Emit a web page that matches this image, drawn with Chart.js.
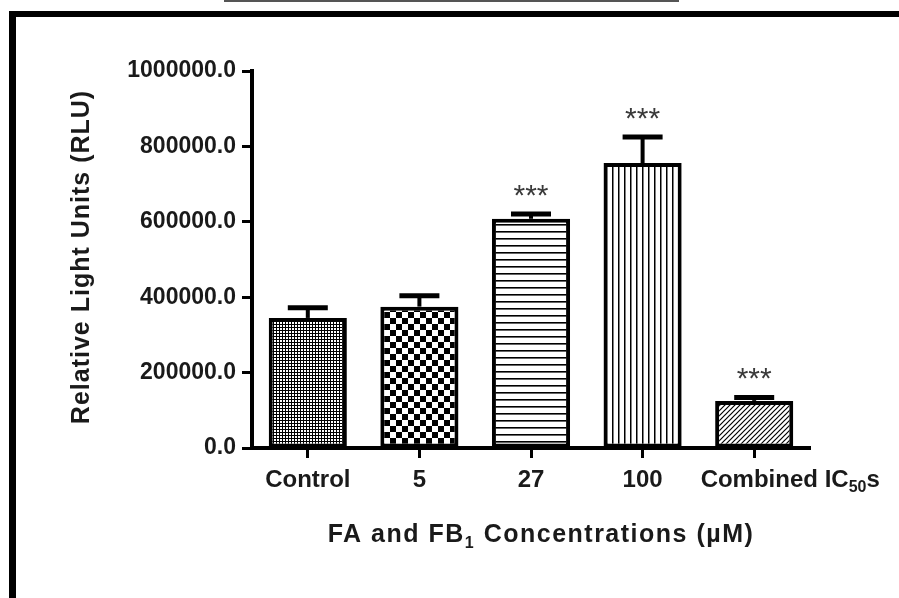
<!DOCTYPE html>
<html>
<head>
<meta charset="utf-8">
<script src="https://cdn.jsdelivr.net/npm/chart.js@4.4.0/dist/chart.umd.min.js"></script>
<style>
  body { margin: 0; background: #fff; }
  #wrap { position: relative; width: 899px; height: 598px; overflow: hidden; }
  #Luc { position: absolute; left: 0; top: 0; }
  .frame-top { position: absolute; left: 9px; top: 11px; width: 890px; height: 6px; background: #000; }
  .frame-left { position: absolute; left: 9px; top: 11px; width: 7px; height: 587px; background: #000; }
  .tab { position: absolute; left: 224px; top: -10px; width: 451px; height: 8px; border: 2px solid #555; }
</style>
</head>
<body>
<div id="wrap">
  <canvas id="Luc" width="899" height="598"></canvas>
  <div class="tab"></div>
  <div class="frame-top"></div>
  <div class="frame-left"></div>
</div>
<script>
const categories = ["Control", "5", "27", "100", "Combined IC₅₀s"];
const rluMean = [345000, 375000, 608000, 756000, 125000];
const rluSem = [27000, 29000, 13000, 69000, 9000];
const significance = ["", "", "***", "***", "***"];
const yTicks = [0, 200000, 400000, 600000, 800000, 1000000];
const xTitle = "FA and FB₁ Concentrations (µM)";
const yTitle = "Relative Light Units (RLU)";

const FONT = '"Liberation Sans", Arial, sans-serif';
const INK = "#1a1a1a";
const SUB = "₀₁₂₃₄₅₆₇₈₉";

// hatch fills like the prism bars
function makePattern(w, h, draw) {
  const c = document.createElement("canvas");
  c.width = w;
  c.height = h;
  const g = c.getContext("2d");
  g.fillStyle = "#fff";
  g.fillRect(0, 0, w, h);
  g.fillStyle = "#000";
  g.strokeStyle = "#000";
  draw(g, w, h);
  return g.createPattern(c, "repeat");
}

const fills = [
  makePattern(3, 3, (g) => {
    g.fillRect(0, 0, 3, 3);
    g.fillStyle = "#fff";
    g.fillRect(1, 1, 2, 2);
  }),
  makePattern(12, 12, (g) => {
    g.fillRect(0, 0, 6, 6);
    g.fillRect(6, 6, 6, 6);
  }),
  makePattern(8, 7, (g) => {
    g.fillRect(0, 0, 8, 1.6);
  }),
  makePattern(6, 8, (g) => {
    g.fillRect(0, 0, 1.5, 8);
  }),
  makePattern(5, 5, (g) => {
    g.lineWidth = 1.2;
    g.beginPath();
    g.moveTo(0, 5); g.lineTo(5, 0);
    g.moveTo(-1, 1); g.lineTo(1, -1);
    g.moveTo(4, 6); g.lineTo(6, 4);
    g.stroke();
  }),
];

// text with real subscript digits drawn smaller and lower
function drawRich(ctx, text, x, y, size, spacing) {
  const runs = [];
  for (const ch of text) {
    const k = SUB.indexOf(ch);
    const sub = k >= 0;
    const c = sub ? String(k) : ch;
    const last = runs[runs.length - 1];
    if (last && last.sub === sub) last.t += c;
    else runs.push({ t: c, sub });
  }
  let total = 0;
  runs.forEach((r) => {
    ctx.font = "bold " + (r.sub ? Math.round(size * 0.65) : size) + "px " + FONT;
    ctx.letterSpacing = spacing + "px";
    r.w = ctx.measureText(r.t).width;
    total += r.w;
  });
  let cx = x - total / 2;
  ctx.textAlign = "left";
  runs.forEach((r) => {
    ctx.font = "bold " + (r.sub ? Math.round(size * 0.65) : size) + "px " + FONT;
    ctx.fillText(r.t, cx, y + (r.sub ? size * 0.22 : 0));
    cx += r.w;
  });
}

const graphExtras = {
  id: "graphExtras",
  afterDatasetsDraw(chart) {
    const { ctx } = chart;
    const y = chart.scales.y;
    const meta = chart.getDatasetMeta(0);
    ctx.save();
    ctx.strokeStyle = "#000";
    meta.data.forEach((bar, i) => {
      const top = y.getPixelForValue(rluMean[i] + rluSem[i]);
      ctx.lineWidth = 4;
      ctx.beginPath();
      ctx.moveTo(bar.x, bar.y);
      ctx.lineTo(bar.x, top);
      ctx.stroke();
      ctx.lineWidth = 5;
      ctx.beginPath();
      ctx.moveTo(bar.x - 20, top);
      ctx.lineTo(bar.x + 20, top);
      ctx.stroke();
      if (significance[i]) {
        ctx.fillStyle = "#3a3a3a";
        ctx.font = "30px " + FONT;
        ctx.textAlign = "center";
        ctx.textBaseline = "alphabetic";
        ctx.fillText(significance[i], bar.x, top - 26 + 17);
      }
    });
    ctx.restore();
  },
  afterDraw(chart) {
    const { ctx } = chart;
    const x = chart.scales.x;
    ctx.save();
    ctx.fillStyle = INK;
    ctx.textBaseline = "alphabetic";
    categories.forEach((lab, i) => {
      const shift = i === categories.length - 1 ? 36 : 0;
      drawRich(ctx, lab, x.getPixelForTick(i) + shift, 487, 24, 0);
    });

    drawRich(ctx, xTitle, 541, 542, 25, 1.5);

    ctx.translate(89, 257);
    ctx.rotate(-Math.PI / 2);
    drawRich(ctx, yTitle, 0, 0, 25, 1);
    ctx.restore();
  },
};

const config = {
  type: "bar",
  data: {
    labels: categories,
    datasets: [
      {
        data: rluMean,
        backgroundColor: fills,
        borderColor: "#000",
        borderWidth: 4,
        borderSkipped: false,
        categoryPercentage: 1,
        barPercentage: 0.7,
      },
    ],
  },
  options: {
    responsive: false,
    animation: false,
    layout: { padding: { left: 0, top: 71, right: 89, bottom: 110 } },
    scales: {
      x: {
        grid: { drawOnChartArea: false, offset: false, color: "#000", tickLength: 10, tickWidth: 3 },
        border: { color: "#000", width: 4 },
        ticks: { display: false },
        afterFit(scale) {
          scale.height = 40;
        },
      },
      y: {
        min: 0,
        max: 1000000,
        afterBuildTicks(scale) {
          scale.ticks = yTicks.map((v) => ({ value: v }));
        },
        grid: { drawOnChartArea: false, color: "#000", tickLength: 10, tickWidth: 3 },
        border: { color: "#000", width: 4 },
        ticks: {
          color: INK,
          padding: 6,
          font: { family: FONT, size: 23, weight: "bold" },
          callback: (v) => Number(v).toFixed(1),
        },
        afterFit(scale) {
          scale.width = 252;
        },
      },
    },
    plugins: {
      legend: { display: false },
      tooltip: { enabled: false },
    },
  },
  plugins: [graphExtras],
};

const lucChart = new Chart(document.getElementById("Luc"), config);
</script>
</body>
</html>
